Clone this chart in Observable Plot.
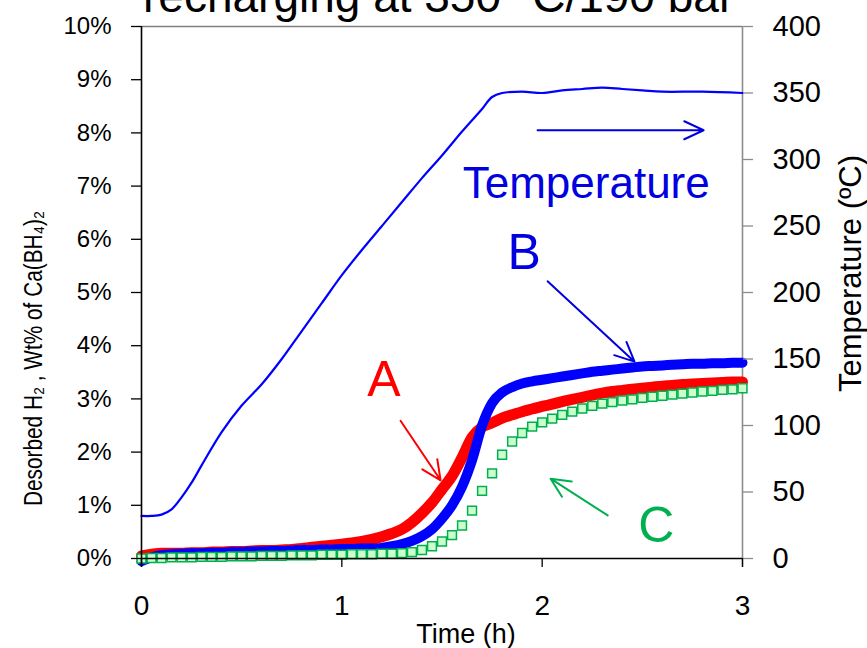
<!DOCTYPE html>
<html>
<head>
<meta charset="utf-8">
<script src="https://cdn.jsdelivr.net/npm/d3@7"></script>
<script src="https://cdn.jsdelivr.net/npm/@observablehq/plot@0.6"></script>
<style>
  html, body { margin: 0; padding: 0; background: white; }
  #wrap { position: relative; width: 867px; height: 648px; overflow: hidden; }
  #title { position: absolute; left: 143px; top: -32px; font-family: "Liberation Sans", Arial, sans-serif; font-size: 46px; line-height: 56px; white-space: nowrap; color: black; z-index: 2; }
</style>
</head>
<body>
<div id="wrap">
  <div id="title">recharging at 350 °C/190 bar</div>
  <div id="chart"></div>
</div>
<script>
// ---- data ----
const time = [0.00,0.05,0.10,0.15,0.20,0.25,0.30,0.35,0.40,0.45,0.50,0.55,0.60,0.65,0.70,0.75,0.80,0.85,0.90,0.95,
  1.00,1.05,1.10,1.15,1.20,1.25,1.30,1.35,1.40,1.45,1.50,1.55,1.60,1.65,1.70,1.75,1.80,1.85,1.90,1.95,
  2.00,2.05,2.10,2.15,2.20,2.25,2.30,2.35,2.40,2.45,2.50,2.55,2.60,2.65,2.70,2.75,2.80,2.85,2.90,2.95,3.00];
// Sample A (red), wt% desorbed H2
const sampleA = [0.05,0.08,0.10,0.10,0.10,0.11,0.11,0.12,0.12,0.13,0.13,0.14,0.15,0.15,0.16,0.17,0.19,0.21,0.23,0.25,
  0.27,0.29,0.32,0.36,0.41,0.47,0.55,0.68,0.85,1.05,1.30,1.55,1.90,2.28,2.47,2.55,2.64,2.70,2.76,2.81,
  2.86,2.90,2.95,2.99,3.03,3.07,3.11,3.14,3.16,3.18,3.20,3.22,3.24,3.25,3.27,3.28,3.29,3.30,3.31,3.32,3.32];
// Sample B (blue)
const sampleB = [-0.05,0.02,0.06,0.08,0.09,0.10,0.10,0.11,0.11,0.12,0.12,0.13,0.13,0.14,0.14,0.15,0.16,0.16,0.17,0.17,
  0.18,0.18,0.19,0.19,0.20,0.23,0.27,0.33,0.42,0.55,0.75,1.00,1.35,1.85,2.50,2.92,3.12,3.22,3.29,3.33,
  3.36,3.39,3.42,3.45,3.48,3.51,3.53,3.55,3.57,3.59,3.61,3.62,3.63,3.64,3.65,3.66,3.66,3.67,3.67,3.68,3.68];
// Sample C (green)
const sampleC = [0.00,0.01,0.01,0.02,0.02,0.02,0.03,0.03,0.03,0.04,0.04,0.04,0.05,0.05,0.05,0.06,0.06,0.06,0.07,0.07,
  0.07,0.08,0.08,0.08,0.09,0.09,0.10,0.12,0.16,0.23,0.32,0.44,0.62,0.90,1.27,1.60,1.95,2.20,2.36,2.48,
  2.56,2.63,2.70,2.76,2.82,2.87,2.91,2.94,2.97,2.99,3.02,3.04,3.06,3.08,3.10,3.12,3.14,3.15,3.17,3.18,3.20];
// Temperature (°C)
const tempTime = [0.00,0.05,0.10,0.15,0.20,0.25,0.30,0.40,0.50,0.60,0.70,0.80,0.90,1.00,1.10,1.20,1.30,1.40,1.50,1.60,1.70,1.75,1.80,1.90,2.00,2.10,2.20,2.30,2.40,2.50,2.60,2.80,3.00];
const tempC    = [32,32,33,37,46,57,70,95,115,131,150,171,192,213,232,250,268,286,303,321,338,347,350,351,350,352,353,354,353,352,351,351,350];

const timeTicks = [0, 1, 2, 3];
const pctTicks = [0,1,2,3,4,5,6,7,8,9,10];
const tempTicks = [0,50,100,150,200,250,300,350,400];
const degPerPct = 40; // 400 °C on the right axis spans the same height as 10 % on the left

// annotations
const labels = ["A", "B", "C", "Temperature"];
const labelX = [1.21, 1.91, 2.57, 2.22];
const labelY = [3.35, 5.75, 0.62, 7.05];
const labelColor = ["#ff0000", "#0000e0", "#00b050", "#0000e0"];
const labelSize = [50, 50, 50, 44];
const arrowX1 = [1.293, 2.027, 2.327, 1.977];
const arrowY1 = [2.59, 5.21, 0.81, 8.05];
const arrowX2 = [1.493, 2.461, 2.042, 2.806];
const arrowY2 = [1.47, 3.70, 1.50, 8.05];
const arrowColor = ["#ff0000", "#0000e0", "#00b050", "#0000e0"];

const rows = time.map((t, i) => ({t, a: sampleA[i], b: sampleB[i], c: sampleC[i]}));
const tempRows = tempTime.map((t, i) => ({t, temp: tempC[i]}));
const labelRows = labels.map((s, i) => ({s, x: labelX[i], y: labelY[i], color: labelColor[i], size: labelSize[i]}));
const arrowRows = arrowX1.map((x1, i) => ({x1, y1: arrowY1[i], x2: arrowX2[i], y2: arrowY2[i], color: arrowColor[i]}));

const font = "'Liberation Sans', Arial, sans-serif";

const chart = Plot.plot({
  width: 867, height: 648,
  marginLeft: 141, marginRight: 125, marginTop: 26, marginBottom: 90,
  style: {fontFamily: font, background: "white", color: "black"},
  x: {domain: [0, 3]},
  y: {domain: [0, 10]},
  marks: [
    // frame
    Plot.ruleY([10], {stroke: "#7f7f7f", strokeWidth: 1.3}),
    Plot.ruleX([3], {stroke: "#8c8c8c", strokeWidth: 1.6, insetBottom: -9}),
    // series
    Plot.line(rows, {x: "t", y: "a", stroke: "#ff0000", strokeWidth: 11, strokeLinecap: "round", strokeLinejoin: "round", curve: "monotone-x"}),
    Plot.line(rows, {x: "t", y: "b", stroke: "#0000ff", strokeWidth: 10, strokeLinecap: "round", strokeLinejoin: "round", curve: "monotone-x"}),
    Plot.dot(rows, {x: "t", y: "c", symbol: "square", r: 5, stroke: "#00b050", strokeWidth: 1.5, fill: "#ccffcc"}),
    Plot.line(tempRows, {x: "t", y: d => d.temp / degPerPct, stroke: "#0000ff", strokeWidth: 2.2, curve: "catmull-rom"}),
    // axes
    Plot.ruleX([0], {stroke: "black", strokeWidth: 1.6, insetBottom: -9}),
    Plot.ruleY([0], {stroke: "black", strokeWidth: 1.6}),
    Plot.axisY(pctTicks, {anchor: "left", tickSize: 10, tickPadding: 20, tickFormat: d => d + "%", fontSize: 24, stroke: "black", strokeWidth: 1.3, label: null}),
    Plot.axisY(tempTicks.map(t => t / degPerPct), {anchor: "right", tickSize: 10, tickPadding: 20, tickFormat: d => String(Math.round(d * degPerPct)), fontSize: 29, stroke: "#8c8c8c", strokeWidth: 1.3, fill: "black", label: null}),
    Plot.axisX(timeTicks, {anchor: "bottom", tickSize: 9, tickPadding: 28, tickFormat: d => String(d), fontSize: 28, stroke: "black", strokeWidth: 1.3, label: null}),
    // axis titles
    Plot.text(["Desorbed H\u2082 , Wt% of Ca(BH\u2084)\u2082"], {className: "ytitle-left", frameAnchor: "left", textAnchor: "middle", lineAnchor: "middle", dx: -108, dy: 66, rotate: -90, fontSize: 25, fill: "black"}),
    Plot.text(["Temperature (\u00baC)"], {frameAnchor: "right", textAnchor: "middle", lineAnchor: "middle", dx: 109, dy: -19, rotate: -90, fontSize: 31, fill: "black"}),
    Plot.text(["Time (h)"], {frameAnchor: "bottom", textAnchor: "middle", lineAnchor: "middle", dx: 24, dy: 76, fontSize: 27, fill: "black"}),
    // annotations
    Plot.arrow(arrowRows, {x1: "x1", y1: "y1", x2: "x2", y2: "y2", stroke: "color", strokeWidth: 2, headLength: 16, headAngle: 50}),
    Plot.text(labelRows, {x: "x", y: "y", text: "s", fill: "color", fontSize: "size"})
  ]
});
// the reference's left title is set in a condensed face: fit it to the same length
d3.select(chart).selectAll(".ytitle-left text").attr("textLength", 295).attr("lengthAdjust", "spacingAndGlyphs");
document.getElementById("chart").appendChild(chart);
</script>
</body>
</html>
